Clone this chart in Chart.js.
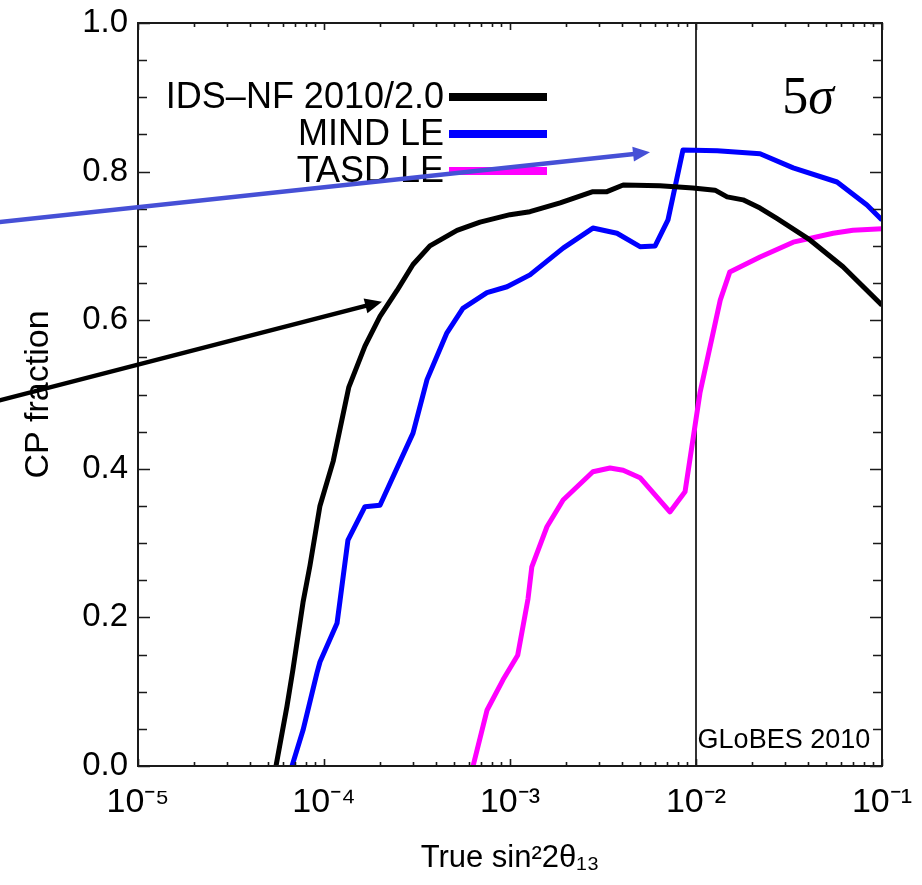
<!DOCTYPE html>
<html>
<head>
<meta charset="utf-8">
<script src="https://cdn.jsdelivr.net/npm/chart.js@4.4.1/dist/chart.umd.min.js"></script>
<style>
html,body{margin:0;padding:0;background:#ffffff;}
#wrap{width:922px;height:885px;position:relative;}
</style>
</head>
<body>
<div id="wrap"><canvas id="c" width="922" height="885"></canvas></div>
<script>
// ---------------- data ----------------
const idsX  = [5.52e-5, 6.32e-5, 6.81e-5, 7.71e-5, 8.41e-5, 9.51e-5, 1.12e-4, 1.36e-4, 1.66e-4, 2.0e-4, 2.47e-4, 3.01e-4, 3.71e-4, 5.19e-4, 6.9e-4, 1.0e-3, 1.28e-3, 1.86e-3, 2.79e-3, 3.32e-3, 4.06e-3, 6.4e-3, 9.63e-3, 1.265e-2, 1.47e-2, 1.79e-2, 2.21e-2, 2.72e-2, 4.1e-2, 6.17e-2, 0.1];
const idsY  = [0, 0.08, 0.13, 0.22, 0.27, 0.35, 0.41, 0.51, 0.565, 0.605, 0.64, 0.675, 0.70, 0.721, 0.732, 0.742, 0.746, 0.758, 0.773, 0.773, 0.782, 0.781, 0.778, 0.775, 0.766, 0.762, 0.751, 0.737, 0.708, 0.672, 0.62];

const mindX = [6.73e-5, 7.71e-5, 9.16e-5, 9.51e-5, 1.175e-4, 1.22e-4, 1.345e-4, 1.66e-4, 2.0e-4, 3.01e-4, 3.58e-4, 4.58e-4, 5.58e-4, 7.52e-4, 9.64e-4, 1.28e-3, 1.93e-3, 2.79e-3, 3.76e-3, 5.0e-3, 6.03e-3, 7.07e-3, 8.51e-3, 1.3e-2, 2.21e-2, 3.33e-2, 5.73e-2, 8.3e-2, 0.1];
const mindY = [0, 0.048, 0.125, 0.14, 0.192, 0.223, 0.304, 0.349, 0.351, 0.448, 0.52, 0.583, 0.616, 0.637, 0.645, 0.661, 0.697, 0.724, 0.717, 0.699, 0.70, 0.735, 0.829, 0.828, 0.824, 0.805, 0.786, 0.755, 0.735];

const tasdX = [6.33e-4, 7.52e-4, 9.17e-4, 1.1e-3, 1.25e-3, 1.31e-3, 1.58e-3, 1.93e-3, 2.79e-3, 3.45e-3, 4.06e-3, 5.0e-3, 7.24e-3, 8.73e-3, 1.05e-2, 1.35e-2, 1.52e-2, 2.21e-2, 3.33e-2, 5.46e-2, 6.98e-2, 0.1];
const tasdY = [0, 0.075, 0.116, 0.149, 0.225, 0.268, 0.322, 0.358, 0.396, 0.401, 0.398, 0.388, 0.342, 0.369, 0.502, 0.627, 0.665, 0.685, 0.705, 0.717, 0.721, 0.723];

const seriesLabels = ['IDS\u2013NF 2010/2.0', 'MIND LE', 'TASD LE'];
const seriesColors = ['#000000', '#0000ff', '#ff00ff'];

const xTickValues = [1e-5, 1e-4, 1e-3, 1e-2, 1e-1];
const xTickLabels = ['10\u207B\u2075', '10\u207B\u2074', '10\u207B\u00B3', '10\u207B\u00B2', '10\u207B\u00B9'];
const yTickValues = [0, 0.2, 0.4, 0.6, 0.8, 1.0];
const yTickLabels = ['0.0', '0.2', '0.4', '0.6', '0.8', '1.0'];
const yMinorStep = 0.05;

const xTitle = 'True sin\u00B22\u03B8\u2081\u2083';
const yTitle = 'CP fraction';
const refLineX = 1e-2;

// annotations in data coordinates
const arrowBlue  = {from: [1.8e-6, 0.732], to: [5.66e-3, 0.826], color: '#4650d6'};
const arrowBlack = {from: [1.8e-6, 0.492], to: [2.05e-4, 0.625], color: '#000000'};
const sigmaText = {x: 0.04, y: 0.903, num: '5', sym: '\u03C3'};
const globesText = {x: 0.0102, y: 0.034, text: 'GLoBES 2010'};

// ---------------- chart ----------------
const FONT = "'Liberation Sans', Arial, Helvetica, sans-serif";

function makeSet(xs, ys, i) {
  return {
    label: seriesLabels[i],
    data: xs.map((x, k) => ({x: x, y: ys[k]})),
    borderColor: seriesColors[i],
    backgroundColor: seriesColors[i],
    borderWidth: 5,
    pointRadius: 0,
    tension: 0,
    fill: false,
    borderJoinStyle: 'round'
  };
}

function drawArrow(ctx, xs, ys, a) {
  const x0 = xs.getPixelForValue(a.from[0]), y0 = ys.getPixelForValue(a.from[1]);
  const x1 = xs.getPixelForValue(a.to[0]),   y1 = ys.getPixelForValue(a.to[1]);
  const ang = Math.atan2(y1 - y0, x1 - x0);
  const hl = 17, hw = 7.5;
  const bx = x1 - hl * Math.cos(ang), by = y1 - hl * Math.sin(ang);
  ctx.save();
  ctx.strokeStyle = a.color; ctx.fillStyle = a.color;
  ctx.lineWidth = 4.5; ctx.lineCap = 'butt';
  ctx.beginPath(); ctx.moveTo(x0, y0); ctx.lineTo(bx + Math.cos(ang), by + Math.sin(ang)); ctx.stroke();
  ctx.beginPath();
  ctx.moveTo(x1, y1);
  ctx.lineTo(bx - hw * Math.sin(ang), by + hw * Math.cos(ang));
  ctx.lineTo(bx + hw * Math.sin(ang), by - hw * Math.cos(ang));
  ctx.closePath(); ctx.fill();
  ctx.restore();
}

const decorPlugin = {
  id: 'decor',
  beforeDatasetsDraw(chart) {
    const ctx = chart.ctx, xs = chart.scales.x, a = chart.chartArea;
    const px = Math.round(xs.getPixelForValue(refLineX));
    ctx.save();
    ctx.strokeStyle = '#333333'; ctx.lineWidth = 2;
    ctx.beginPath(); ctx.moveTo(px, a.top); ctx.lineTo(px, a.bottom); ctx.stroke();
    ctx.restore();
  },
  afterDatasetsDraw(chart) {
    const ctx = chart.ctx, xs = chart.scales.x, ys = chart.scales.y, a = chart.chartArea;
    ctx.save();
    // frame
    ctx.strokeStyle = '#1a1a1a'; ctx.lineWidth = 2;
    ctx.strokeRect(a.left, a.top, a.right - a.left, a.bottom - a.top);
    // y ticks (inward, both sides)
    ctx.lineWidth = 1.6;
    for (let v = 0; v <= 1.0001; v += yMinorStep) {
      const major = Math.abs(v / 0.2 - Math.round(v / 0.2)) < 1e-6;
      const len = major ? 12 : 9;
      const py = Math.round(ys.getPixelForValue(v)) + 0.5;
      ctx.beginPath();
      ctx.moveTo(a.left, py); ctx.lineTo(a.left + len, py);
      ctx.moveTo(a.right, py); ctx.lineTo(a.right - len, py);
      ctx.stroke();
    }
    // x ticks (inward, bottom and top)
    for (let d = 0; d < xTickValues.length; d++) {
      const base = xTickValues[d];
      const kMax = d === xTickValues.length - 1 ? 1 : 9;
      for (let k = 1; k <= kMax; k++) {
        const v = base * k;
        const len = k === 1 ? 7 : 4;
        const px = Math.round(xs.getPixelForValue(v)) + 0.5;
        ctx.beginPath();
        ctx.moveTo(px, a.bottom); ctx.lineTo(px, a.bottom - len);
        ctx.moveTo(px, a.top); ctx.lineTo(px, a.top + len);
        ctx.stroke();
      }
    }
    // legend (labels right-aligned, line sample to the right)
    ctx.font = '36px ' + FONT;
    ctx.textAlign = 'right'; ctx.textBaseline = 'middle';
    chart.data.datasets.forEach((ds, i) => {
      const ly = a.top + 74 + i * 37;
      ctx.fillStyle = '#000000';
      ctx.fillText(ds.label, a.left + 306, ly + 1);
      ctx.strokeStyle = ds.borderColor; ctx.lineWidth = 8; ctx.lineCap = 'butt';
      ctx.beginPath(); ctx.moveTo(a.left + 311, ly); ctx.lineTo(a.left + 409, ly); ctx.stroke();
    });
    // 5 sigma
    const sx = xs.getPixelForValue(sigmaText.x), sy = ys.getPixelForValue(sigmaText.y);
    const SERIF = "'Liberation Serif', 'Times New Roman', serif";
    ctx.fillStyle = '#000000'; ctx.textBaseline = 'alphabetic';
    ctx.font = '52px ' + SERIF;
    const w1 = ctx.measureText(sigmaText.num).width;
    ctx.font = 'italic 52px ' + SERIF;
    const w2 = ctx.measureText(sigmaText.sym).width;
    const startX = sx - (w1 + w2) / 2;
    ctx.textAlign = 'left';
    ctx.font = '52px ' + SERIF;
    ctx.fillText(sigmaText.num, startX, sy + 18);
    ctx.font = 'italic 52px ' + SERIF;
    ctx.fillText(sigmaText.sym, startX + w1, sy + 18);
    // GLoBES
    ctx.font = '27px ' + FONT;
    ctx.textAlign = 'left'; ctx.textBaseline = 'middle';
    ctx.fillText(globesText.text, xs.getPixelForValue(globesText.x), ys.getPixelForValue(globesText.y));
    ctx.restore();
    // arrows (extend beyond the plot frame)
    drawArrow(ctx, xs, ys, arrowBlue);
    drawArrow(ctx, xs, ys, arrowBlack);
  }
};

const chart = new Chart(document.getElementById('c').getContext('2d'), {
  type: 'line',
  data: {
    datasets: [makeSet(idsX, idsY, 0), makeSet(mindX, mindY, 1), makeSet(tasdX, tasdY, 2)]
  },
  options: {
    responsive: false,
    animation: false,
    devicePixelRatio: 1,
    layout: {padding: {top: 23, right: 40, left: 0, bottom: 0}},
    plugins: {legend: {display: false}, tooltip: {enabled: false}},
    scales: {
      x: {
        type: 'logarithmic',
        min: 1e-5, max: 1e-1,
        afterBuildTicks: s => { s.ticks = xTickValues.map(v => ({value: v, major: true})); },
        afterFit: s => { s.height = 119; s.paddingLeft = 0; s.paddingRight = 0; },
        grid: {display: false, drawTicks: false},
        border: {display: false},
        ticks: {
          autoSkip: false, maxRotation: 0, minRotation: 0, padding: 16,
          color: '#000000', font: {family: FONT, size: 34},
          callback: (v, i) => xTickLabels[i]
        },
        title: {display: true, text: xTitle, color: '#000000', font: {family: FONT, size: 31}, padding: {top: 0, bottom: 8}}
      },
      y: {
        min: 0, max: 1,
        afterBuildTicks: s => { s.ticks = yTickValues.map(v => ({value: v})); },
        afterFit: s => { s.width = 138; s.paddingTop = 0; s.paddingBottom = 0; },
        grid: {display: false, drawTicks: false},
        border: {display: false},
        ticks: {
          autoSkip: false, padding: 10,
          color: '#000000', font: {family: FONT, size: 33},
          callback: (v, i) => yTickLabels[i]
        },
        title: {display: true, text: yTitle, color: '#000000', font: {family: FONT, size: 34}, padding: {top: 18, bottom: 0}}
      }
    }
  },
  plugins: [decorPlugin]
});
</script>
</body>
</html>
